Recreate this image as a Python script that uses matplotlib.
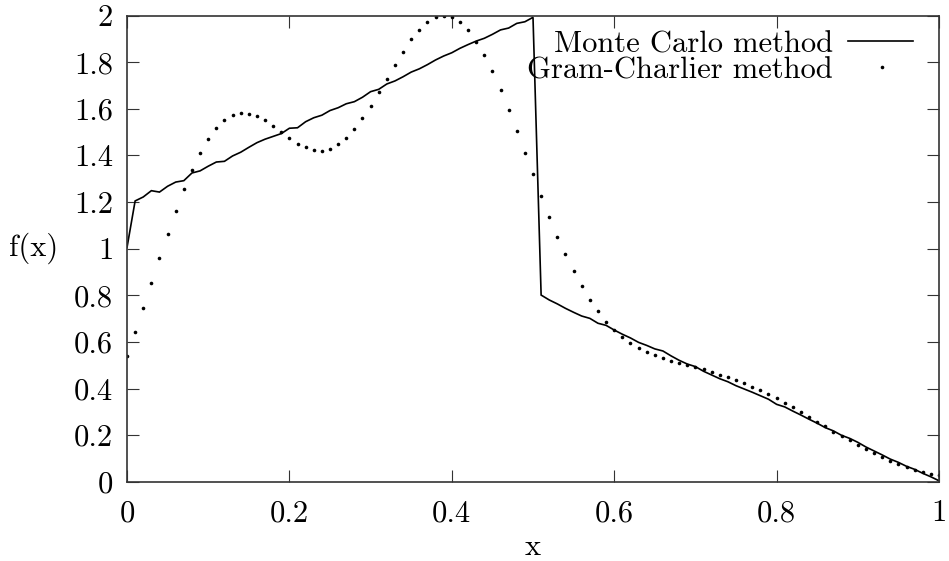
import numpy as np
import matplotlib
matplotlib.use("Agg")
import matplotlib.pyplot as plt
from matplotlib.lines import Line2D

# ---- data -------------------------------------------------------------
x_vals = np.round(np.arange(101) * 0.01, 2)

monte_carlo = [
    1.005, 1.205, 1.222, 1.249, 1.243, 1.268, 1.286, 1.292, 1.325, 1.334,
    1.354, 1.372, 1.375, 1.398, 1.414, 1.435, 1.455, 1.470, 1.482, 1.494,
    1.517, 1.519, 1.545, 1.562, 1.573, 1.593, 1.605, 1.622, 1.631, 1.650,
    1.674, 1.684, 1.707, 1.720, 1.738, 1.758, 1.772, 1.790, 1.810, 1.827,
    1.841, 1.860, 1.876, 1.891, 1.903, 1.920, 1.939, 1.947, 1.967, 1.974,
    1.993, 0.801, 0.780, 0.763, 0.744, 0.727, 0.711, 0.701, 0.680, 0.671,
    0.651, 0.633, 0.617, 0.598, 0.585, 0.570, 0.561, 0.540, 0.521, 0.505,
    0.494, 0.474, 0.458, 0.442, 0.429, 0.412, 0.398, 0.384, 0.369, 0.354,
    0.332, 0.321, 0.303, 0.286, 0.268, 0.251, 0.232, 0.218, 0.199, 0.186,
    0.169, 0.149, 0.132, 0.115, 0.097, 0.083, 0.066, 0.053, 0.036, 0.021,
    0.004,
]

gram_charlier = [
    0.538, 0.641, 0.744, 0.851, 0.959, 1.063, 1.162, 1.256, 1.338, 1.409,
    1.471, 1.517, 1.552, 1.574, 1.582, 1.580, 1.568, 1.551, 1.527, 1.499,
    1.475, 1.451, 1.435, 1.424, 1.421, 1.428, 1.448, 1.475, 1.514, 1.560,
    1.611, 1.671, 1.730, 1.788, 1.846, 1.899, 1.940, 1.972, 1.994, 2.000,
    1.993, 1.972, 1.939, 1.889, 1.830, 1.761, 1.681, 1.597, 1.505, 1.412,
    1.321, 1.226, 1.137, 1.052, 0.976, 0.904, 0.840, 0.780, 0.731, 0.687,
    0.650, 0.620, 0.595, 0.572, 0.557, 0.543, 0.530, 0.519, 0.509, 0.501,
    0.491, 0.482, 0.472, 0.459, 0.449, 0.437, 0.422, 0.408, 0.392, 0.375,
    0.358, 0.339, 0.319, 0.299, 0.279, 0.258, 0.238, 0.215, 0.198, 0.178,
    0.158, 0.139, 0.122, 0.106, 0.090, 0.076, 0.063, 0.051, 0.042, 0.034,
    0.029,
]

x_ticks = [0, 0.2, 0.4, 0.6, 0.8, 1]
x_tick_labels = ["0", "0.2", "0.4", "0.6", "0.8", "1"]
y_ticks = [0, 0.2, 0.4, 0.6, 0.8, 1, 1.2, 1.4, 1.6, 1.8, 2]
y_tick_labels = ["0", "0.2", "0.4", "0.6", "0.8", "1", "1.2", "1.4", "1.6", "1.8", "2"]

label_mc = "Monte Carlo method"
label_gc = "Gram-Charlier method"

# ---- style ------------------------------------------------------------
plt.rcParams["font.family"] = ["cmr10", "DejaVu Serif"]
plt.rcParams["axes.formatter.use_mathtext"] = True
plt.rcParams["mathtext.fontset"] = "cm"
FS = 22
MS = 2.6

fig = plt.figure(figsize=(9.49, 5.61), dpi=100)
ax = fig.add_axes([127 / 949, 79.3 / 561, 812 / 949, 466 / 561])

ax.plot(x_vals, monte_carlo, color="black", lw=1.2, solid_joinstyle="miter")
ax.plot(x_vals, gram_charlier, linestyle="none", marker="o", ms=MS,
        color="black", mew=0)

ax.set_xlim(0, 1)
ax.set_ylim(0, 2)
ax.set_xticks(x_ticks)
ax.set_xticklabels(x_tick_labels)
ax.set_yticks(y_ticks)
ax.set_yticklabels(y_tick_labels)
ax.tick_params(direction="in", length=8.5, width=0.8, color="#333333",
               top=True, right=True, labelsize=FS)
ax.tick_params(axis="y", pad=10)
ax.tick_params(axis="x", pad=13)
for s in ax.spines.values():
    s.set_linewidth(1.2)
    s.set_color("#333333")

ax.set_xlabel("x", fontsize=FS)
ax.xaxis.set_label_coords(0.5, -0.14)
ax.xaxis.label.set_va("center")
ax.set_ylabel("f(x)", fontsize=FS, rotation=0)
ax.yaxis.set_label_coords(-0.1145, 0.5015)
ax.yaxis.label.set_va("center")
ax.yaxis.label.set_ha("center")

# ---- legend (gnuplot-style, right-aligned text) -----------------------
ax.text(0.8695, 0.922, label_mc, transform=ax.transAxes, ha="right",
        va="baseline", fontsize=FS)
ax.text(0.8695, 0.866, label_gc, transform=ax.transAxes, ha="right",
        va="baseline", fontsize=FS)
ax.add_line(Line2D([0.888, 0.968], [0.9457, 0.9457], transform=ax.transAxes,
                   color="black", lw=1.2))
ax.add_line(Line2D([0.930], [0.8906], transform=ax.transAxes, color="black",
                   marker="o", ms=MS, mew=0, linestyle="none"))

fig.savefig("out.png", dpi=100)
